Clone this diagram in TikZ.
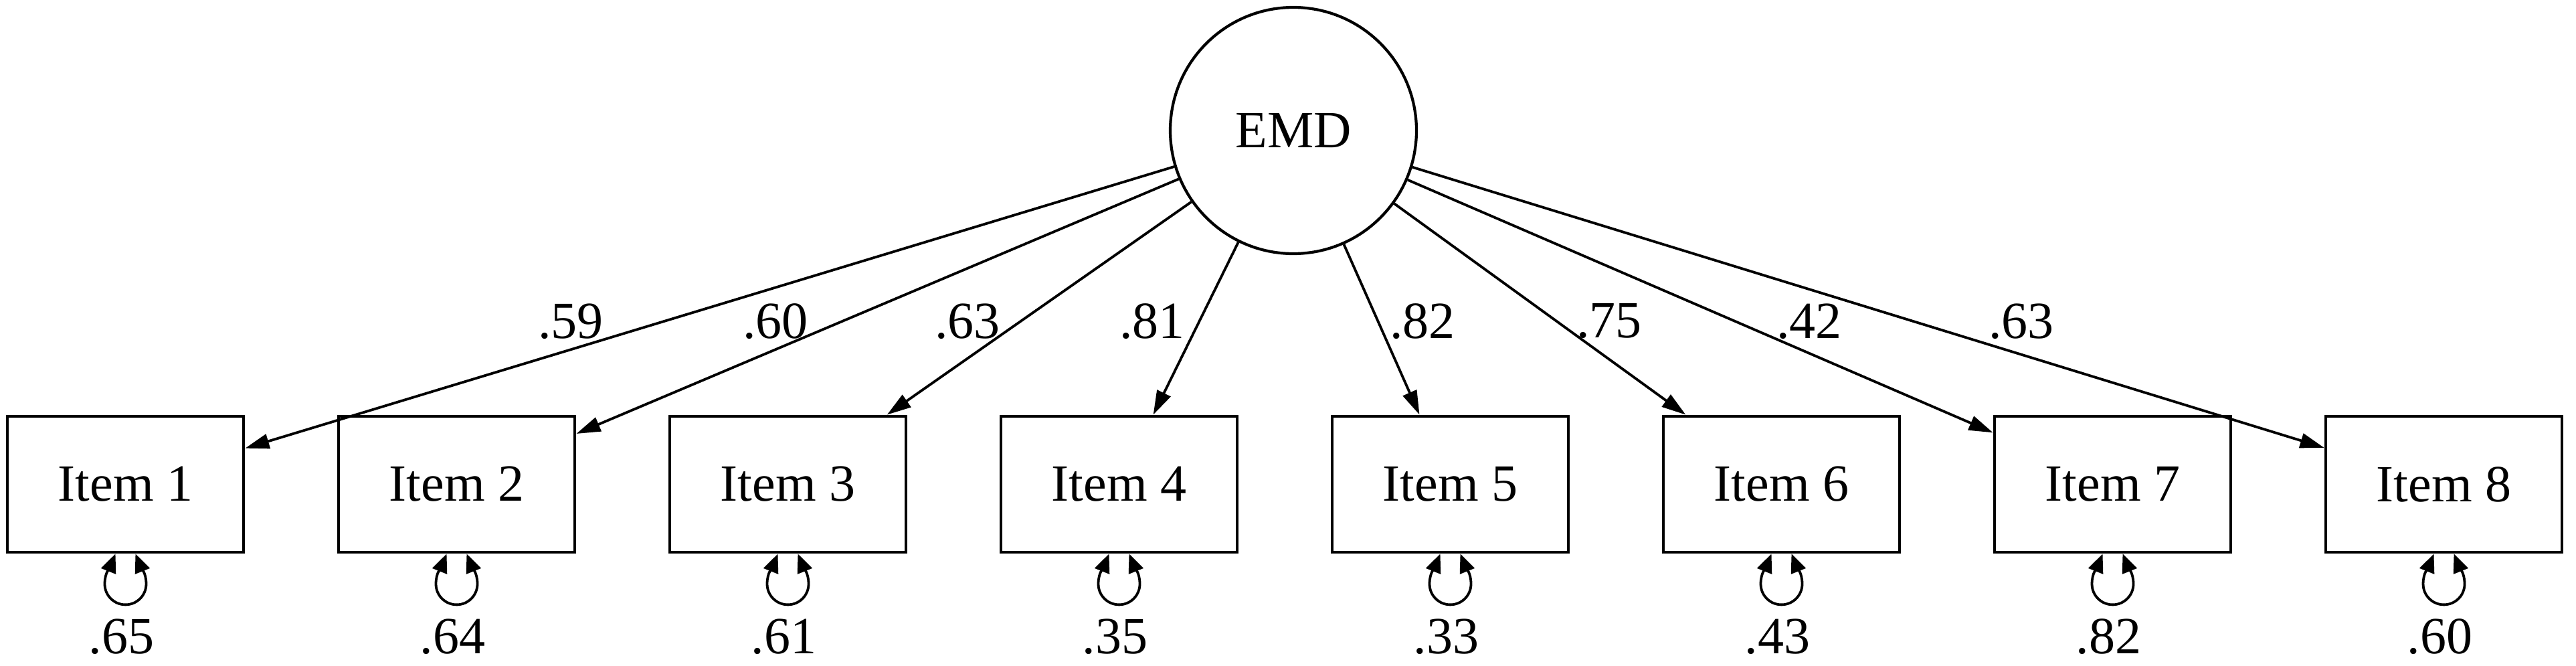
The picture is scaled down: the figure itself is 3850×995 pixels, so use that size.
\documentclass[tikz,border=0pt]{standalone}
\usepackage{fontspec}
\setmainfont{Liberation Serif}
\usetikzlibrary{arrows.meta,calc}
\begin{document}
\begin{tikzpicture}[x=0.1mm,y=-0.1mm,
  every node/.style={font=\fontsize{22.2}{26}\selectfont},
  item/.style={draw, line width=0.48mm, minimum width=35.3mm, minimum height=20.3mm, inner sep=0pt},
  latent/.style={draw, circle, line width=0.42mm, minimum size=36.8mm, inner sep=0pt},
  load/.style={-{Triangle[length=3.6mm,width=2.2mm]}, line width=0.38mm},
  resid/.style={{Triangle[length=2.8mm,width=2.3mm]}-{Triangle[length=2.8mm,width=2.3mm]}, line width=0.38mm},
  lab/.style={inner sep=0pt}]
\fill[white] (0,0) rectangle (3850,995);
\useasboundingbox (0,0) rectangle (3850,995);
\node[latent] (EMD) at (1933,195) {EMD};
\foreach \i/\r/\lx/\lt in {1/.65/853/.59, 2/.64/1159/.60, 3/.61/1446/.63, 4/.35/1722/.81,
                           5/.33/2126/.82, 6/.43/2405/.75, 7/.82/2704/.42, 8/.60/3021/.63} {
  \node[item] (I\i) at ({187.5+495*(\i-1)},723.5) {Item \i};
  \draw[load] (EMD) -- (I\i);
  \draw[resid] ($(I\i.south)+(-15,0)$) .. controls +(-8,20) and +(0,-17) .. ($(I\i.south)+(-31,45)$)
     arc[start angle=180, end angle=0, radius=31]
     .. controls +(0,-17) and +(8,20) .. ($(I\i.south)+(15,0)$);
  \node[lab] (r\i) at ({181.5+495*(\i-1)},951) {\r};
  \node[lab] (l\i) at (\lx,480) {\lt};
}
\end{tikzpicture}
\end{document}
